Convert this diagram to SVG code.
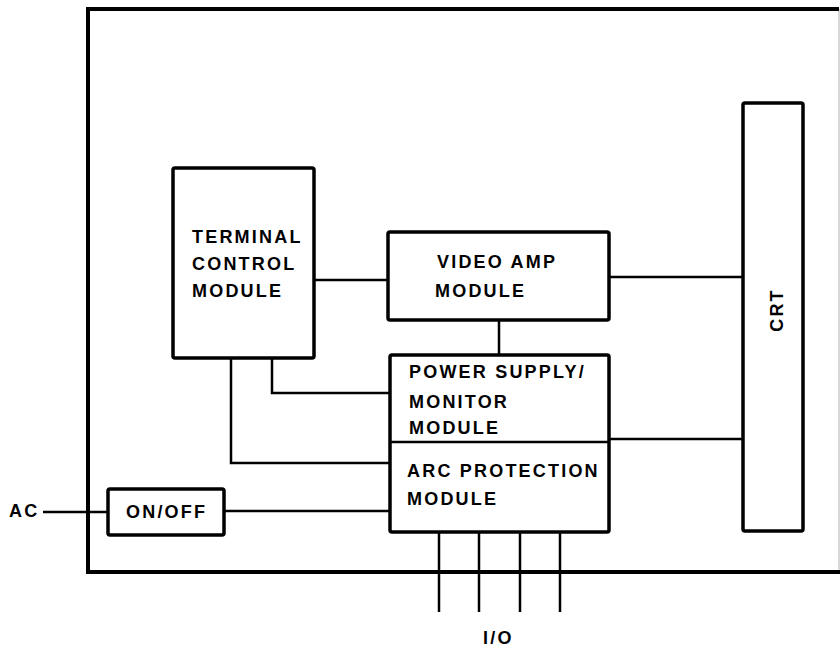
<svg xmlns="http://www.w3.org/2000/svg" width="840" height="649" viewBox="0 0 840 649">
<style>
.box{fill:#fff;stroke:#000;stroke-width:3.5;stroke-linejoin:round}
.frame{fill:none;stroke:#000;stroke-width:4}
.wire{fill:none;stroke:#000;stroke-width:2.5}
text{font-family:"Liberation Sans",Arial,sans-serif;font-weight:bold;font-size:18px;letter-spacing:2.2px;fill:#000}
</style>
<rect width="840" height="649" fill="#fff"/>
<g id="frame"><path class="frame" d="M839,9 H88 V572 H840"/><line x1="839" y1="9" x2="839" y2="572" stroke="#000" stroke-width="1" opacity="0.3"/></g>
<g id="connectors">
<path class="wire" d="M314,280 H388"/>
<path class="wire" d="M609,277 H743"/>
<path class="wire" d="M499,320 V355"/>
<path class="wire" d="M272,358 V393 H390"/>
<path class="wire" d="M231,358 V463 H390"/>
<path class="wire" d="M609,439 H743"/>
<path class="wire" d="M224,511 H390"/>
<path class="wire" d="M43,512 H108"/>
<path class="wire" d="M439,532 V612 M479,532 V612 M520,532 V612 M560,532 V612"/>
</g>
<g id="terminal-control"><rect class="box" x="173" y="168" width="141" height="190" rx="2"/>
<text x="192" y="243">TERMINAL</text><text x="192" y="270">CONTROL</text><text x="192" y="297">MODULE</text></g>
<g id="video-amp"><rect class="box" x="388" y="232" width="221" height="88" rx="2"/>
<text x="437" y="268">VIDEO AMP</text><text x="435" y="297">MODULE</text></g>
<g id="power-arc"><rect class="box" x="390" y="355" width="219" height="177" rx="2"/>
<line x1="390" y1="442" x2="609" y2="442" stroke="#000" stroke-width="2.5"/>
<text x="409" y="378">POWER SUPPLY/</text><text x="409" y="408">MONITOR</text><text x="409" y="434">MODULE</text>
<text x="407" y="477">ARC PROTECTION</text><text x="407" y="505">MODULE</text></g>
<g id="crt"><rect class="box" x="743" y="103" width="60" height="428" rx="2"/>
<text transform="translate(783,310) rotate(-90)" text-anchor="middle">CRT</text></g>
<g id="onoff"><rect class="box" x="108" y="489" width="116" height="46" rx="2"/>
<text x="126" y="518">ON/OFF</text></g>
<g id="labels"><text x="9" y="517">AC</text><text x="483" y="644" font-size="15">I/O</text></g>
</svg>
